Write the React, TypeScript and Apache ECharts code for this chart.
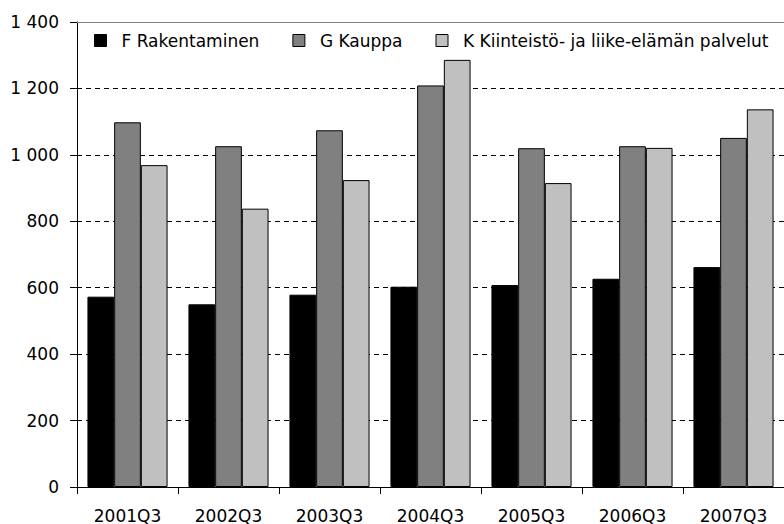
import React, { useEffect, useRef } from "react";
import * as echarts from "echarts";

const categories = ["2001Q3", "2002Q3", "2003Q3", "2004Q3", "2005Q3", "2006Q3", "2007Q3"];
const seriesNames = ["F Rakentaminen", "G Kauppa", "K Kiinteistö- ja liike-elämän palvelut"];
const rakentaminen = [573, 550, 579, 603, 608, 627, 662];
const kauppa = [1098, 1026, 1074, 1209, 1020, 1026, 1051];
const kiinteisto = [969, 838, 924, 1286, 915, 1021, 1137];
const seriesColors = ["#000000", "#808080", "#c0c0c0"];

const FONT = "DejaVu Sans";

function fmt(v: number): string {
  const s = String(Math.round(v));
  return s.replace(/\B(?=(\d{3})+(?!\d))/g, " ");
}

export default function App() {
  const ref = useRef<HTMLDivElement>(null);
  useEffect(() => {
    if (!ref.current) return;
    const chart = echarts.init(ref.current, null, { renderer: "svg" });
    const data = [rakentaminen, kauppa, kiinteisto];
    chart.setOption({
      animation: false,
      backgroundColor: "#ffffff",
      textStyle: { fontFamily: FONT },
      legend: {
        left: 89,
        top: 27,
        itemWidth: 12,
        itemHeight: 12,
        itemGap: 33,
        icon: "rect",
        itemStyle: { borderColor: "#000", borderWidth: 1 },
        textStyle: { fontFamily: FONT, fontSize: 17, color: "#000", padding: [0, 0, 0, 10] },
        data: seriesNames,
      },
      grid: { left: 77, top: 22, width: 711, height: 465, containLabel: false },
      xAxis: [
        {
          type: "category",
          data: categories,
          position: "bottom",
          axisLine: { lineStyle: { color: "#000", width: 1 } },
          axisTick: { show: true, length: 7, lineStyle: { color: "#000" } },
          axisLabel: { fontFamily: FONT, fontSize: 17, color: "#000", margin: 20 },
          splitLine: { show: false },
        },
        {
          type: "category",
          data: categories,
          position: "top",
          axisLine: { lineStyle: { color: "#808080", width: 1 } },
          axisTick: { show: false },
          axisLabel: { show: false },
          splitLine: { show: false },
        },
      ],
      yAxis: {
        type: "value",
        min: 0,
        max: 1400,
        interval: 200,
        axisLine: { show: true, lineStyle: { color: "#000", width: 1 } },
        axisTick: { show: true, length: 7, lineStyle: { color: "#000" } },
        axisLabel: { fontFamily: FONT, fontSize: 17, color: "#000", margin: 18, formatter: (v: number) => fmt(v) },
        splitLine: {
          show: true,
          showMaxLine: false,
          showMinLine: false,
          lineStyle: { color: "#000", width: 1, type: [5, 4] },
        },
      },
      series: data.map((d, i) => ({
        name: seriesNames[i],
        type: "bar",
        data: d,
        barWidth: 26.7,
        barGap: "0%",
        itemStyle: { color: seriesColors[i], borderColor: "#000", borderWidth: 1 },
      })),
    });
    return () => chart.dispose();
  }, []);
  return (
    <div
      ref={ref}
      style={{ position: "fixed", left: 0, top: 0, width: 784, height: 524, background: "#fff" }}
    />
  );
}
